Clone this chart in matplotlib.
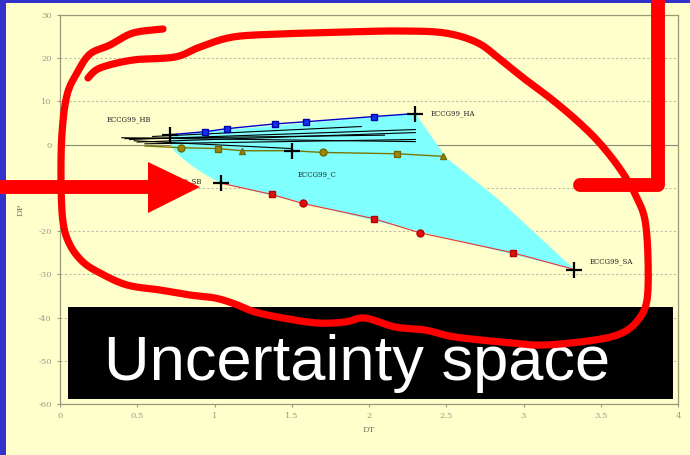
import numpy as np
import matplotlib
matplotlib.use("Agg")
import matplotlib.pyplot as plt
from matplotlib.patches import Polygon, Rectangle

# ---- data -------------------------------------------------------------
x_ticks = [0, 0.5, 1, 1.5, 2, 2.5, 3, 3.5, 4]
x_tick_labels = ["0", "0.5", "1", "1.5", "2", "2.5", "3", "3.5", "4"]
y_ticks = [30, 20, 10, 0, -10, -20, -30, -40, -50, -60]
y_tick_labels = ["30", "20", "10", "0", "-10", "-20", "-30", "-40", "-50", "-60"]

# upper scenario path (HB -> HA)
h_dt = [0.71, 0.94, 1.08, 1.39, 1.59, 2.03, 2.30]
h_dp = [2.3, 3.0, 3.7, 4.8, 5.3, 6.5, 7.2]

# central path (C)
c_dt = [0.55, 0.78, 1.02, 1.18, 1.50, 1.70, 2.18, 2.48]
c_dp = [-0.3, -0.7, -0.9, -1.4, -1.4, -1.8, -2.1, -2.7]
c_marks = [None, "o", "s", "^", None, "o", "s", "^"]

# lower scenario path (SB -> SA)
s_dt = [1.04, 1.37, 1.57, 2.03, 2.33, 2.93, 3.33]
s_dp = [-8.9, -11.5, -13.6, -17.1, -20.4, -25.0, -28.9]
s_marks = [None, "s", "o", "s", "o", "s", None]

# named end points
pt_names = ["ECCG99_HB", "ECCG99_HA", "ECCG99_C", "ECCG99_SB", "ECCG99_SA"]
pt_dt = [0.71, 2.30, 1.50, 1.04, 3.33]
pt_dp = [2.3, 7.2, -1.4, -8.9, -28.9]

# spread of intermediate runs
run_start_dt = [0.45, 0.50, 0.40, 0.55, 0.48, 0.60, 0.42]
run_start_dp = [1.2, 0.6, 1.6, 0.2, 0.9, 1.9, 1.4]
run_end_dt = [2.30, 2.30, 2.30, 2.30, 1.50, 1.95, 2.10]
run_end_dp = [3.5, 2.8, 0.7, 1.2, -0.9, 4.2, 2.2]

# envelope of all runs
env_dt = [0.71, 2.30, 2.50, 2.85, 3.33, 1.04, 0.92, 0.82, 0.74, 0.71]
env_dp = [2.3, 7.2, -3.0, -13.0, -28.9, -8.9, -6.5, -4.0, -1.5, 0.5]

# ---- figure -----------------------------------------------------------
W, H = 690, 455
fig = plt.figure(figsize=(W / 100, H / 100), dpi=100)
fig.patch.set_facecolor("#FFFFCC")

ax = fig.add_axes([60 / W, (H - 404) / H, (678 - 60) / W, (404 - 15) / H])
ax.set_facecolor("#FFFFCC")
ax.set_xlim(0, 4)
ax.set_ylim(-60, 30)
ax.set_xticks(x_ticks)
ax.set_xticklabels(x_tick_labels)
ax.set_yticks(y_ticks)
ax.set_yticklabels(y_tick_labels)
ax.tick_params(colors="#999988", labelsize=6, length=2, pad=4)
for lab in ax.get_xticklabels() + ax.get_yticklabels():
    lab.set_family("DejaVu Serif")
for s in ax.spines.values():
    s.set_color("#999977")
    s.set_linewidth(0.9)
for yv in y_ticks:
    if yv == 0:
        ax.axhline(0, color="#888877", lw=0.8, zorder=1)
    else:
        ax.axhline(yv, color="#bbbbaa", lw=0.8, ls=(0, (2, 2)), zorder=1)
ax.set_xlabel("DT", fontsize=6, color="#777766", family="DejaVu Serif", labelpad=4)
ax.set_ylabel("DP", fontsize=6, color="#777766", family="DejaVu Serif", labelpad=10)

ax.add_patch(Polygon(np.column_stack([env_dt, env_dp]), closed=True,
                     facecolor="#80FFFF", edgecolor="none", zorder=2))

for x0, y0, x1, y1 in zip(run_start_dt, run_start_dp, run_end_dt, run_end_dp):
    ax.plot([x0, x1], [y0, y1], color="black", lw=0.8, zorder=3)

ax.plot(h_dt, h_dp, color="#0000CC", lw=1.0, zorder=4)
ax.plot(h_dt[1:-1], h_dp[1:-1], ls="none", marker="s", ms=5, color="#1133EE",
        mec="#0000AA", zorder=5)

ax.plot(c_dt, c_dp, color="#777700", lw=1.0, zorder=4)
for x, y, m in zip(c_dt, c_dp, c_marks):
    if m:
        ax.plot(x, y, marker=m, ms=5, color="#998800", mec="#776600", zorder=5)

ax.plot(s_dt, s_dp, color="#EE3333", lw=0.8, zorder=4)
for x, y, m in zip(s_dt, s_dp, s_marks):
    if m:
        ax.plot(x, y, marker=m, ms=5, color="#DD1111", mec="#BB0000", zorder=5)

ax.plot(pt_dt, pt_dp, ls="none", marker="+", ms=11, mew=1.6, color="black", zorder=6)
offsets = {"ECCG99_HB": (-0.12, 3.5, "right"), "ECCG99_HA": (0.1, 0.0, "left"),
           "ECCG99_C": (0.04, -5.5, "left"), "ECCG99_SB": (-0.12, 0.5, "right"),
           "ECCG99_SA": (0.1, 1.8, "left")}
for name, x, y in zip(pt_names, pt_dt, pt_dp):
    dx, dy, ha = offsets[name]
    ax.text(x + dx, y + dy, name, fontsize=5, family="DejaVu Serif",
            ha=ha, va="center", color="#222222", zorder=6)

# ---- slide overlay (pixel coordinates) --------------------------------
ov = fig.add_axes([0, 0, 1, 1])
ov.set_xlim(0, W)
ov.set_ylim(H, 0)
ov.axis("off")
ov.patch.set_alpha(0)

ov.add_patch(Rectangle((0, 0), 6, H, color="#3333CC", lw=0))
ov.add_patch(Rectangle((0, 0), W, 3, color="#3333CC", lw=0))

ov.add_patch(Rectangle((68, 307), 605, 92, color="black", lw=0))
ov.text(357, 380, "Uncertainty space", color="white", fontsize=45.5,
        family="Liberation Sans", ha="center", va="baseline")


def smooth(pts, n=12):
    p = np.asarray(pts, float)
    p = np.vstack([p[0], p, p[-1]])
    out = []
    for i in range(1, len(p) - 2):
        p0, p1, p2, p3 = p[i - 1], p[i], p[i + 1], p[i + 2]
        for t in np.linspace(0, 1, n, endpoint=False):
            t2, t3 = t * t, t * t * t
            out.append(0.5 * ((2 * p1) + (-p0 + p2) * t +
                              (2 * p0 - 5 * p1 + 4 * p2 - p3) * t2 +
                              (-p0 + 3 * p1 - 3 * p2 + p3) * t3))
    out.append(p[-2])
    return np.array(out)


loop = [(163, 29), (133, 33), (110, 45), (90, 54), (77, 73), (67, 95), (62, 133),
        (61, 180), (63, 222), (70, 245), (83, 262), (100, 273), (127, 285),
        (160, 290), (190, 295), (215, 298), (235, 304), (255, 312), (283, 318),
        (317, 323), (345, 322), (365, 318), (395, 327), (425, 330), (455, 337),
        (512, 343), (545, 345), (595, 340), (622, 333), (638, 320), (647, 300),
        (648, 258), (645, 220), (637, 198), (626, 178), (612, 158), (595, 138),
        (574, 118), (550, 98), (526, 80), (502, 61), (478, 43), (445, 33),
        (400, 31), (345, 32), (280, 34), (233, 37), (200, 47), (175, 57),
        (133, 60), (100, 68), (88, 78)]
lp = smooth(loop)
ov.plot(lp[:, 0], lp[:, 1], color="#FF0000", lw=5.2, solid_capstyle="round",
        solid_joinstyle="round", zorder=10)

ov.plot([0, 152], [187, 187], color="#FF0000", lw=10, solid_capstyle="butt", zorder=10)
ov.add_patch(Polygon([(148, 162), (200, 187), (148, 213)], closed=True,
                     color="#FF0000", lw=0, zorder=10))

ov.plot([658, 658, 580], [-5, 185, 185], color="#FF0000", lw=10,
        solid_capstyle="round", solid_joinstyle="round", zorder=10)

fig.savefig("out.png", dpi=100, facecolor=fig.get_facecolor())
